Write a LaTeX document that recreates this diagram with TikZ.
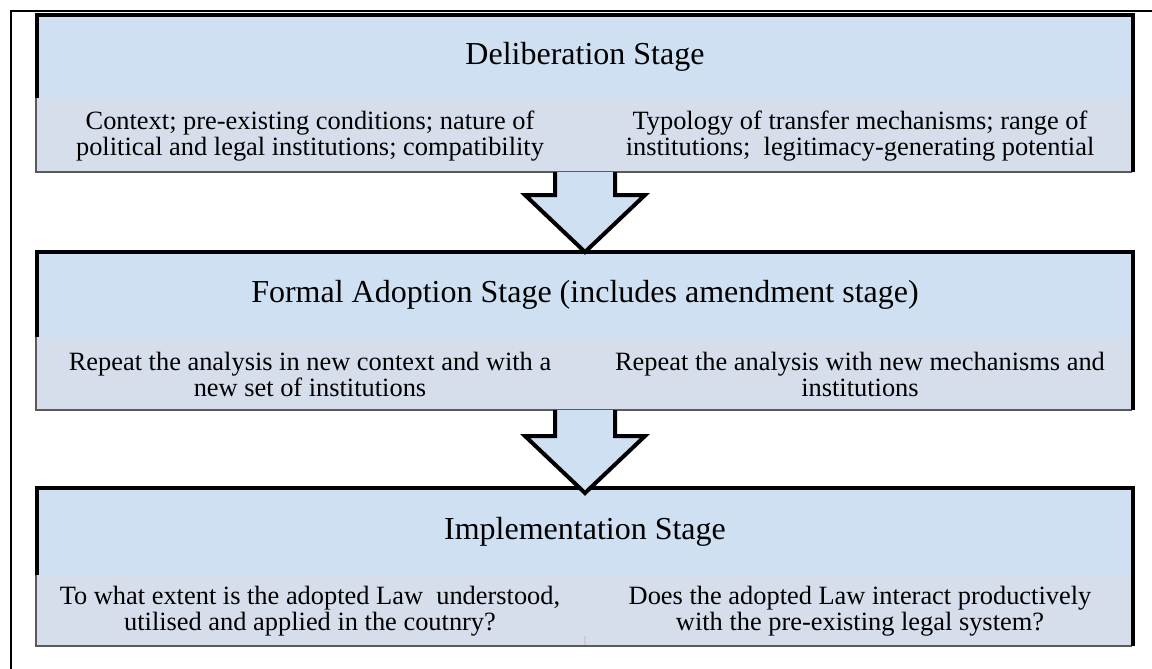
\documentclass[tikz,border=0pt]{standalone}
\usepackage{fontspec}
\setmainfont{Liberation Serif}
\usetikzlibrary{calc}
\usepackage{xcolor}
\definecolor{headblue}{RGB}{207,224,242}
\definecolor{subgrey}{RGB}{214,222,236}
\definecolor{subedge}{RGB}{90,90,90}
\definecolor{subsplit}{RGB}{200,205,214}

\tikzset{
  stageframe/.style={line width=2pt, line join=miter},
  subband/.style={fill=subgrey},
  subshade/.style={draw=subedge, line width=0.6pt},
  subsplitline/.style={draw=subsplit, line width=0.8pt},
  headtext/.style={font=\fontsize{16}{19}\selectfont},
  subtext/.style={font=\fontsize{13.2}{13}\selectfont, align=center},
  blockarrow/.style={fill=headblue, draw=black, line width=2pt, line join=miter}
}

\begin{document}
\begin{tikzpicture}[x=0.5pt,y=-0.5pt]
\useasboundingbox (0,0) rectangle (1152,669);
\draw [line width=1pt] (10.5,669) -- (10.5,10.5) -- (1152,10.5);

% deliberation
\coordinate (s1) at (37,15);
\fill [headblue] (s1) rectangle (1133,172);
\fill [subband] (36,98) rectangle (1132,172);
\draw [subshade] (36,98) -- (36,172) -- (1132,172);
\draw [stageframe] (37,98) -- (s1) -- (1133,15) -- (1133,172);
\node (h1) [headtext] at ($(s1)+(548,42)$) {Deliberation Stage};
\node (l1) [subtext] at (310,136) {Context; pre-existing conditions; nature of\\political and legal institutions; compatibility};
\node (r1) [subtext] at (860,136) {Typology of transfer mechanisms; range of\\institutions;\ \ legitimacy-generating potential};

% formal adoption
\coordinate (s2) at (37,252);
\fill [headblue] (s2) rectangle (1133,410);
\fill [subband] (36,337) rectangle (1132,410);
\draw [subshade] (36,337) -- (36,410) -- (1132,410);
\draw [stageframe] (37,337) -- (s2) -- (1133,252) -- (1133,410);
\node (h2) [headtext] at ($(s2)+(548,43)$) {Formal Adoption Stage (includes amendment stage)};
\node (l2) [subtext] at (310,374) {Repeat the analysis in new context and with a\\new set of institutions};
\node (r2) [subtext] at (860,374) {Repeat the analysis with new mechanisms and\\institutions};

% implementation
\coordinate (s3) at (37,488);
\fill [headblue] (s3) rectangle (1133,646);
\fill [subband] (36,575) rectangle (1132,646);
\draw [subsplitline] (585,636) -- (585,645);
\draw [subshade] (36,575) -- (36,646) -- (1132,646);
\draw [stageframe] (37,575) -- (s3) -- (1133,488) -- (1133,646);
\node (h3) [headtext] at ($(s3)+(548,44)$) {Implementation Stage};
\node (l3) [subtext] at (310,611) {To what extent is the adopted Law\ \ understood,\\utilised and applied in the coutnry?};
\node (r3) [subtext] at (860,611) {Does the adopted Law interact productively\\with the pre-existing legal system?};

% arrows
\filldraw [blockarrow] (555,172) -- (555,195) -- (525,195) -- (585,252) -- (645,195) -- (615,195) -- (615,172);
\filldraw [blockarrow] (555,410) -- (555,436) -- (525,436) -- (585,493) -- (645,436) -- (615,436) -- (615,410);
\end{tikzpicture}
\end{document}
